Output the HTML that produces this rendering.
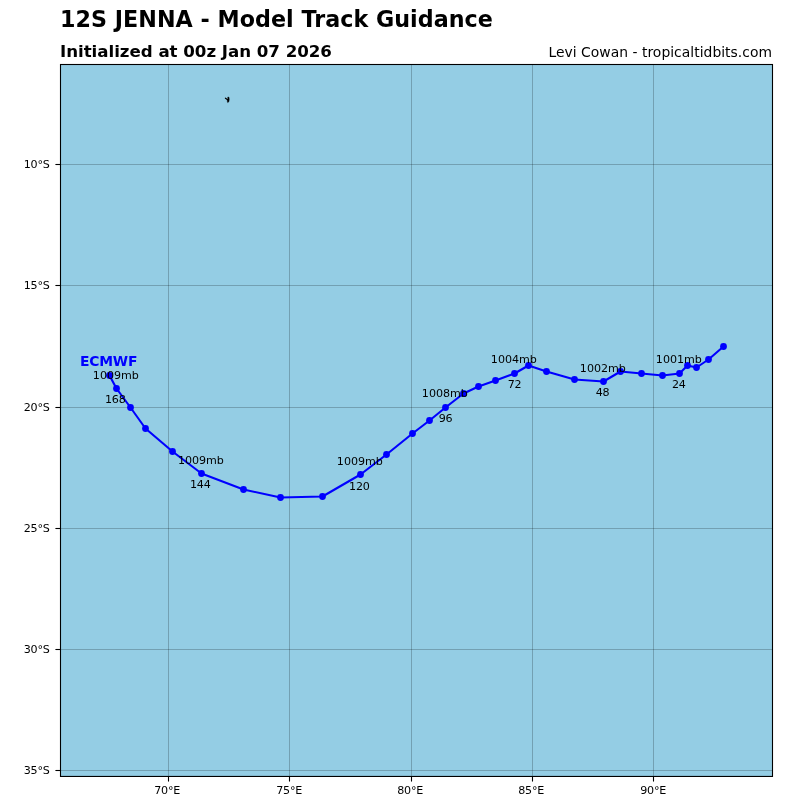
<!DOCTYPE html>
<html><head><meta charset="utf-8"><title>12S JENNA - Model Track Guidance</title>
<style>
html,body{margin:0;padding:0;background:#fff;}
body{width:800px;height:800px;overflow:hidden;}
svg{display:block;}
text{font-family:"DejaVu Sans","Liberation Sans",sans-serif;fill:#000;}
.t{font-size:11.11px;letter-spacing:-0.2px;}
.m{letter-spacing:-0.05px;}
.c{text-anchor:middle;}
</style></head><body>
<svg width="800" height="800" viewBox="0 0 800 800">
<rect x="0" y="0" width="800" height="800" fill="#ffffff"/>
<rect x="60.5" y="64.5" width="712.0" height="711.95" fill="#94cde4"/>
<g stroke="#000" stroke-opacity="0.22" stroke-width="1" fill="none">
<line x1="168.5" y1="64.5" x2="168.5" y2="776.45"/>
<line x1="289.5" y1="64.5" x2="289.5" y2="776.45"/>
<line x1="411.5" y1="64.5" x2="411.5" y2="776.45"/>
<line x1="532.5" y1="64.5" x2="532.5" y2="776.45"/>
<line x1="653.5" y1="64.5" x2="653.5" y2="776.45"/>
<line x1="60.5" y1="164.5" x2="772.5" y2="164.5"/>
<line x1="60.5" y1="285.5" x2="772.5" y2="285.5"/>
<line x1="60.5" y1="407.5" x2="772.5" y2="407.5"/>
<line x1="60.5" y1="528.5" x2="772.5" y2="528.5"/>
<line x1="60.5" y1="649.5" x2="772.5" y2="649.5"/>
<line x1="60.5" y1="770.5" x2="772.5" y2="770.5"/>
</g>
<path d="M227.8 97.1 L229.0 97.3 L229.2 99.6 L228.85 101.7 L227.7 102.5 L227.3 101.2 L227.4 99.6 L227.9 98.5 Z" fill="#000" stroke="#000" stroke-width="0.5"/>
<path d="M227.7 99.8 L225.4 98.2" fill="none" stroke="#000" stroke-width="1.15" stroke-linecap="round"/>
<polyline fill="none" stroke="#0000ff" stroke-width="2.08" stroke-linejoin="round" stroke-linecap="butt" points="109.5,375.5 116.5,388.5 130.5,407.5 145.5,428.5 172.5,451.5 201.5,473.5 243.5,489.5 280.5,497.5 322.5,496.5 360.5,474.5 386.5,454.5 412.5,433.5 429.5,420.5 445.5,407.5 463.5,393.5 478.5,386.5 495.5,380.5 514.5,373.5 528.5,365.5 546.5,371.5 574.5,379.5 603.5,381.5 620.5,371.5 641.5,373.5 662.5,375.5 679.5,373.5 687.5,365.5 696.5,367.5 708.5,359.5 723.5,346.5"/>
<g fill="#0000ff">
<circle cx="109.5" cy="375.5" r="3.4"/>
<circle cx="116.5" cy="388.5" r="3.4"/>
<circle cx="130.5" cy="407.5" r="3.4"/>
<circle cx="145.5" cy="428.5" r="3.4"/>
<circle cx="172.5" cy="451.5" r="3.4"/>
<circle cx="201.5" cy="473.5" r="3.4"/>
<circle cx="243.5" cy="489.5" r="3.4"/>
<circle cx="280.5" cy="497.5" r="3.4"/>
<circle cx="322.5" cy="496.5" r="3.4"/>
<circle cx="360.5" cy="474.5" r="3.4"/>
<circle cx="386.5" cy="454.5" r="3.4"/>
<circle cx="412.5" cy="433.5" r="3.4"/>
<circle cx="429.5" cy="420.5" r="3.4"/>
<circle cx="445.5" cy="407.5" r="3.4"/>
<circle cx="463.5" cy="393.5" r="3.4"/>
<circle cx="478.5" cy="386.5" r="3.4"/>
<circle cx="495.5" cy="380.5" r="3.4"/>
<circle cx="514.5" cy="373.5" r="3.4"/>
<circle cx="528.5" cy="365.5" r="3.4"/>
<circle cx="546.5" cy="371.5" r="3.4"/>
<circle cx="574.5" cy="379.5" r="3.4"/>
<circle cx="603.5" cy="381.5" r="3.4"/>
<circle cx="620.5" cy="371.5" r="3.4"/>
<circle cx="641.5" cy="373.5" r="3.4"/>
<circle cx="662.5" cy="375.5" r="3.4"/>
<circle cx="679.5" cy="373.5" r="3.4"/>
<circle cx="687.5" cy="365.5" r="3.4"/>
<circle cx="696.5" cy="367.5" r="3.4"/>
<circle cx="708.5" cy="359.5" r="3.4"/>
<circle cx="723.5" cy="346.5" r="3.4"/>
</g>
<rect x="60.5" y="64.5" width="712.0" height="711.95" fill="none" stroke="#000" stroke-width="1.1"/>
<g stroke="#000" stroke-width="1.1">
<line x1="168.5" y1="776.45" x2="168.5" y2="781.5500000000001"/>
<line x1="289.5" y1="776.45" x2="289.5" y2="781.5500000000001"/>
<line x1="411.5" y1="776.45" x2="411.5" y2="781.5500000000001"/>
<line x1="532.5" y1="776.45" x2="532.5" y2="781.5500000000001"/>
<line x1="653.5" y1="776.45" x2="653.5" y2="781.5500000000001"/>
<line x1="60.5" y1="164.5" x2="55.4" y2="164.5"/>
<line x1="60.5" y1="285.5" x2="55.4" y2="285.5"/>
<line x1="60.5" y1="407.5" x2="55.4" y2="407.5"/>
<line x1="60.5" y1="528.5" x2="55.4" y2="528.5"/>
<line x1="60.5" y1="649.5" x2="55.4" y2="649.5"/>
<line x1="60.5" y1="770.5" x2="55.4" y2="770.5"/>
</g>
<text class="t c" x="167.2" y="794">70°E</text>
<text class="t c" x="289.2" y="794">75°E</text>
<text class="t c" x="410.2" y="794">80°E</text>
<text class="t c" x="531.2" y="794">85°E</text>
<text class="t c" x="653.2" y="794">90°E</text>
<text class="t" text-anchor="end" x="49.6" y="168.0">10°S</text>
<text class="t" text-anchor="end" x="49.6" y="289.0">15°S</text>
<text class="t" text-anchor="end" x="49.6" y="411.0">20°S</text>
<text class="t" text-anchor="end" x="49.6" y="532.0">25°S</text>
<text class="t" text-anchor="end" x="49.6" y="653.0">30°S</text>
<text class="t" text-anchor="end" x="49.6" y="774.0">35°S</text>
<text class="t m c" x="115.8" y="379">1009mb</text>
<text class="t c" x="115.25" y="403">168</text>
<text class="t m c" x="200.9" y="464">1009mb</text>
<text class="t c" x="200.25" y="488">144</text>
<text class="t m c" x="359.8" y="465">1009mb</text>
<text class="t c" x="359.4" y="490">120</text>
<text class="t m c" x="444.8" y="397">1008mb</text>
<text class="t c" x="445.5" y="422">96</text>
<text class="t m c" x="513.8" y="363">1004mb</text>
<text class="t c" x="514.6" y="388">72</text>
<text class="t m c" x="602.8" y="372">1002mb</text>
<text class="t c" x="602.5" y="396">48</text>
<text class="t m c" x="678.8" y="363">1001mb</text>
<text class="t c" x="678.75" y="388">24</text>
<text x="80" y="366" style="font-size:13.89px;font-weight:bold;fill:#0000ff;letter-spacing:-0.2px">ECMWF</text>
<text x="60" y="27" style="font-size:22.22px;font-weight:bold;letter-spacing:0.03px">12S JENNA - Model Track Guidance</text>
<text x="60" y="57" style="font-size:16.67px;font-weight:bold;letter-spacing:-0.035px">Initialized at 00z Jan 07 2026</text>
<text x="772" y="57" text-anchor="end" style="font-size:13.89px;letter-spacing:0.03px">Levi Cowan - tropicaltidbits.com</text>
</svg>
</body></html>
